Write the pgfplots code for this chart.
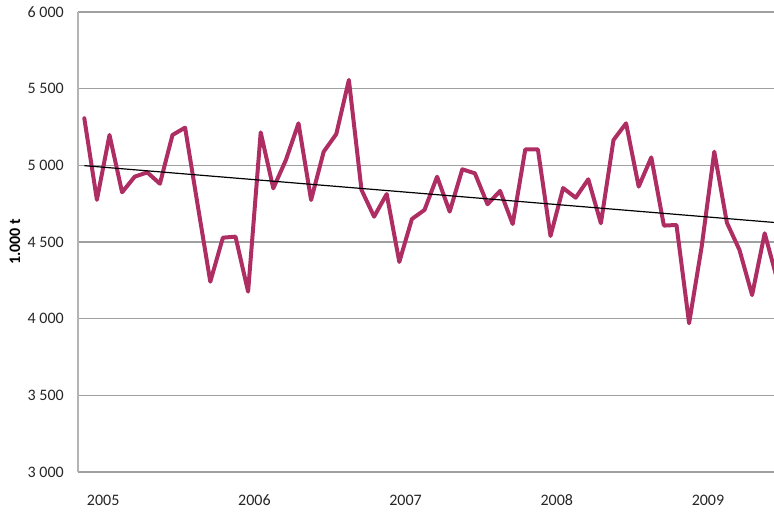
\documentclass[border=0pt]{standalone}
\usepackage{fontspec}
\setmainfont{Carlito}
\usepackage{pgfplots}
\pgfplotsset{compat=1.18}
\usetikzlibrary{calc}
\definecolor{linec}{RGB}{174,46,99}
\definecolor{gridc}{RGB}{160,160,160}
\definecolor{axisc}{RGB}{180,180,180}
\begin{document}
\begin{tikzpicture}
\begin{axis}[
  name=ax,
  scale only axis,
  width=696pt, height=460pt,
  xmin=-0.5, xmax=54.74,
  ymin=3000, ymax=6000,
  axis lines*=left,
  axis line style={-},
  x axis line style={draw=none},
  y axis line style={draw=axisc, line width=2pt},
  ymajorgrids,
  grid style={draw=gridc, line width=1.2pt},
  ytick={3000,3500,4000,4500,5000,5500,6000},
  yticklabels={3 000,3 500,4 000,4 500,5 000,5 500,6 000},
  xtick={1.5,13.5,25.5,37.5,49.5},
  xticklabels={2005,2006,2007,2008,2009},
  major tick length=0pt,
  tick style={draw=none},
  /pgf/number format/assume math mode=true,
  yticklabel style={font=\fontsize{16}{19}\selectfont, inner sep=0pt, anchor=east, xshift=-14pt, text=black!85},
  xticklabel style={font=\fontsize{16}{19}\selectfont, inner sep=0pt, anchor=north, yshift=-22.5pt, text=black!85},
  ylabel={1.000 t},
  ylabel style={font=\fontsize{16}{19}\selectfont\bfseries, at={(axis description cs:-0.0905,0.5)}, anchor=center},
  clip=true,
]
\addplot[draw=linec, line width=4pt, line join=round, line cap=round, mark=none] coordinates {
(0,5307) (1,4775) (2,5198) (3,4824) (4,4926) (5,4954) (6,4880) (7,5198)
(8,5246) (9,4740) (10,4241) (11,4528) (12,4535) (13,4176) (14,5215) (15,4850)
(16,5035) (17,5274) (18,4774) (19,5089) (20,5204) (21,5557) (22,4840) (23,4665)
(24,4813) (25,4370) (26,4650) (27,4709) (28,4926) (29,4698) (30,4974) (31,4948)
(32,4746) (33,4833) (34,4617) (35,5104) (36,5104) (37,4539) (38,4852) (39,4789)
(40,4909) (41,4622) (42,5165) (43,5274) (44,4861) (45,5052) (46,4607) (47,4611)
(48,3970) (49,4470) (50,5089) (51,4626) (52,4448) (53,4154) (54,4557) (55,4253)
};
\addplot[draw=black, line width=1.2pt, mark=none] coordinates {(0,4998) (60,4592)};
\end{axis}
\pgfresetboundingbox
\path ($(ax.south west)+(-78pt,-39pt)$) rectangle ($(ax.north east)+(0pt,12pt)$);
\end{tikzpicture}
\end{document}
